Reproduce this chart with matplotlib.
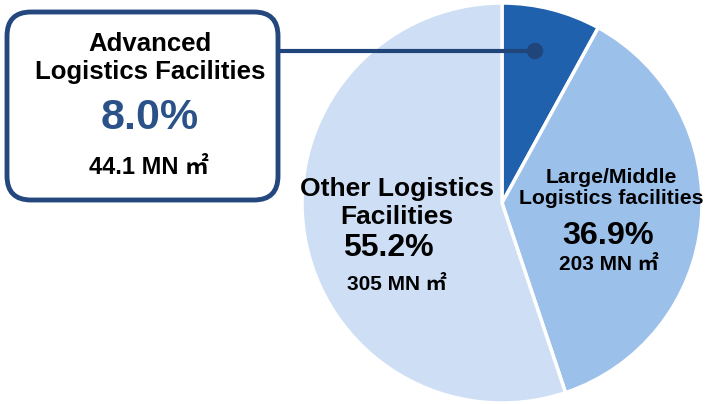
import matplotlib.pyplot as plt
from matplotlib.patches import FancyBboxPatch, Circle

W, H = 714, 404

categories = ["Advanced\nLogistics Facilities",
              "Large/Middle\nLogistics facilities",
              "Other Logistics\nFacilities"]
shares = [8.0, 36.9, 55.2]
areas = ["44.1 MN ㎡", "203 MN ㎡", "305 MN ㎡"]
colors = ["#2061ad", "#9bc0ea", "#cedff5"]

FONT = ["Liberation Sans", "Noto Sans CJK JP", "DejaVu Sans"]


def py(y):
    # pixel row (from top) -> data y
    return H - y


fig = plt.figure(figsize=(W / 100, H / 100), dpi=100)
ax = fig.add_axes([0, 0, 1, 1])

ax.pie(shares, colors=colors, startangle=90, counterclock=False,
       center=(502, py(203)), radius=200, frame=True,
       wedgeprops=dict(edgecolor="white", linewidth=2.5))
ax.set_xlim(0, W)
ax.set_ylim(0, H)
ax.axis("off")

# callout box for the small slice
box = FancyBboxPatch((7, py(200)), 271, 188,
                     boxstyle="round,pad=0,rounding_size=24",
                     facecolor="white", edgecolor="#24487e", linewidth=3.5,
                     zorder=4)
ax.add_patch(box)
ax.plot([279, 535], [py(51), py(51)], color="#1f457b", lw=3, zorder=3)
ax.add_patch(Circle((535, py(51)), 7.5, color="#1f457b", zorder=5))

txt = dict(ha="center", va="center", fontweight="bold", family=FONT, zorder=6)

ax.text(150, py(58), categories[0], fontsize=18.5, linespacing=1.22, **txt)
ax.text(150, py(118), f"{shares[0]:.1f}%", fontsize=31, color="#2a5288", **txt)
ax.text(149, py(168), areas[0], fontsize=17, **txt)

ax.text(611, py(188), categories[1], fontsize=15.3, linespacing=1.18, **txt)
ax.text(608, py(236), f"{shares[1]:.1f}%", fontsize=23.3, **txt)
ax.text(609, py(265), areas[1], fontsize=15, **txt)

ax.text(397, py(203), categories[2], fontsize=19, linespacing=1.2, **txt)
ax.text(388, py(248), f"{shares[2]:.1f}%", fontsize=23, **txt)
ax.text(397, py(285), areas[2], fontsize=15, **txt)

fig.savefig("out.png", dpi=100)
